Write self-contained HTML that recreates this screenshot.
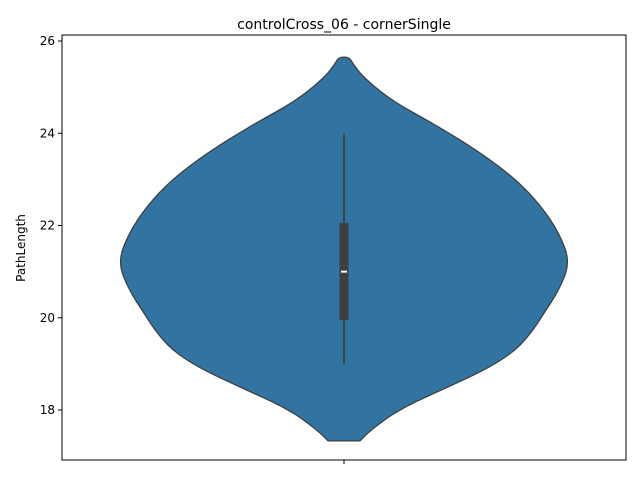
<!DOCTYPE html>
<html><head><meta charset="utf-8"><style>
body{margin:0;background:#fff;font-family:"DejaVu Sans","Liberation Sans",sans-serif}
</style></head><body>
<svg id="chart" width="640" height="480" xmlns="http://www.w3.org/2000/svg" font-family="DejaVu Sans, Liberation Sans, sans-serif">
<rect width="640" height="480" fill="#fff"/>
<text x="344" y="29" text-anchor="middle" font-size="14">controlCross_06 - cornerSingle</text>
<text transform="translate(25,248) rotate(-90)" text-anchor="middle" font-size="12">PathLength</text>
<g id="ticks"></g>
<g id="marks"></g>
<rect x="62" y="35" width="564" height="425" fill="none" stroke="#000" stroke-width="1"/>
</svg>
<script>
const yTicks=[18,20,22,24,26];
const densV=[17.33,17.55,18.0,18.5,18.9,19.3,19.7,20.1,20.6,21.2,21.8,22.4,23.0,23.6,24.2,24.7,25.2,25.5,25.65];
const densW=[16,26,54,104,144,172,188,200,215,226,216,198,172,135,90,48,20,9,5.5];
const stats={min:19,q1:19.95,median:21,q3:22.05,max:24};
const NS="http://www.w3.org/2000/svg";
const cx=344;
function y(v){return 410-(v-18)*46.125;}
function w(d){return d;}
const tg=document.getElementById('ticks');
yTicks.forEach(t=>{
 const l=document.createElementNS(NS,'line');
 l.setAttribute('x1',58);l.setAttribute('x2',62);l.setAttribute('y1',y(t));l.setAttribute('y2',y(t));l.setAttribute('stroke','#000');
 
 
 tg.appendChild(l);
 const tx=document.createElementNS(NS,'text');
 tx.setAttribute('x',55);tx.setAttribute('y',y(t)+4);tx.setAttribute('text-anchor','end');tx.setAttribute('font-size','12');
 tx.textContent=t;
 
 
 tg.appendChild(tx);
});
const xt=document.createElementNS(NS,'line');
xt.setAttribute('x1',cx);xt.setAttribute('x2',cx);xt.setAttribute('y1',460);xt.setAttribute('y2',464);xt.setAttribute('stroke','#000');


tg.appendChild(xt);
const mg=document.getElementById('marks');
let pts=[];
densV.forEach((v,i)=>pts.push([cx+w(densW[i]),y(v)]));
for(let i=densV.length-1;i>=0;i--)pts.push([cx-w(densW[i]),y(densV[i])]);
function smooth(p){let d='M'+p[0][0]+','+p[0][1];
 for(let i=1;i<p.length;i++){const a=p[i-1],b=p[i];const mx=(a[0]+b[0])/2,my=(a[1]+b[1])/2;d+=' Q'+a[0]+','+a[1]+' '+mx+','+my;}
 const last=p[p.length-1];d+=' L'+last[0]+','+last[1]+' Z';return d;}
const body=document.createElementNS(NS,'path');
body.setAttribute('d',smooth(pts));
body.setAttribute('fill','#3274a1');body.setAttribute('stroke','#3f3f3f');body.setAttribute('stroke-width','1.3');


mg.appendChild(body);
const wh=document.createElementNS(NS,'line');
wh.setAttribute('x1',cx);wh.setAttribute('x2',cx);wh.setAttribute('y1',y(stats.min));wh.setAttribute('y2',y(stats.max));
wh.setAttribute('stroke','#3f3f3f');wh.setAttribute('stroke-width','1.8');


mg.appendChild(wh);
const bx=document.createElementNS(NS,'rect');
bx.setAttribute('x',cx-4.5);bx.setAttribute('width',9);bx.setAttribute('y',y(stats.q3));bx.setAttribute('height',y(stats.q1)-y(stats.q3));
bx.setAttribute('fill','#3f3f3f');


mg.appendChild(bx);
const md=document.createElementNS(NS,'line');
md.setAttribute('x1',cx-3);md.setAttribute('x2',cx+3);md.setAttribute('y1',y(stats.median));md.setAttribute('y2',y(stats.median));
md.setAttribute('stroke','#fff');md.setAttribute('stroke-width','2');


mg.appendChild(md);
</script>
</body></html>
